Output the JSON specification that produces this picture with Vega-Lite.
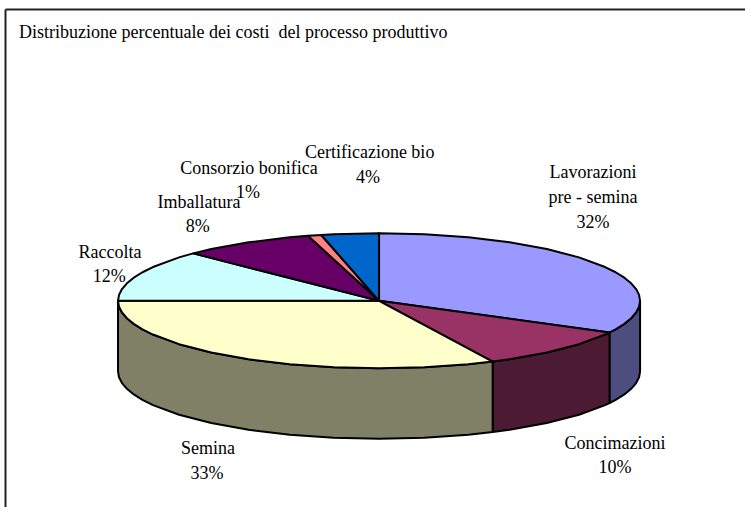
{"$schema":"https://vega.github.io/schema/vega-lite/v6.json","width":740,"height":498,"autosize":"none","padding":{"left":5,"top":9,"right":0,"bottom":0},"background":"white","config":{"view":{"stroke":null}},
"encoding":{"x":{"field":"x","type":"quantitative","scale":{"domain":[-1.433,1.402],"nice":false,"zero":false},"axis":{"orient":"top","title":null,"ticks":false,"labels":false,"grid":false,"domainColor":"#222222","domainWidth":2}},"y":{"field":"y","type":"quantitative","scale":{"domain":[-3.055,4.323],"nice":false,"zero":false},"axis":{"orient":"left","title":null,"ticks":false,"labels":false,"grid":false,"domainColor":"#222222","domainWidth":2}}},
"layer":[
{"data":{"values":[
{"slice":"Lavorazioni lato","n":0,"x":1,"y":0},{"slice":"Lavorazioni lato","n":1,"x":0.9962,"y":-0.0872},{"slice":"Lavorazioni lato","n":2,"x":0.9848,"y":-0.1736},{"slice":"Lavorazioni lato","n":3,"x":0.9659,"y":-0.2588},{"slice":"Lavorazioni lato","n":4,"x":0.9397,"y":-0.342},{"slice":"Lavorazioni lato","n":5,"x":0.9063,"y":-0.4226},{"slice":"Lavorazioni lato","n":6,"x":0.8829,"y":-0.4695},{"slice":"Lavorazioni lato","n":7,"x":0.8829,"y":-1.5145},{"slice":"Lavorazioni lato","n":8,"x":0.9063,"y":-1.4676},{"slice":"Lavorazioni lato","n":9,"x":0.9397,"y":-1.387},{"slice":"Lavorazioni lato","n":10,"x":0.9659,"y":-1.3038},{"slice":"Lavorazioni lato","n":11,"x":0.9848,"y":-1.2186},{"slice":"Lavorazioni lato","n":12,"x":0.9962,"y":-1.1322},{"slice":"Lavorazioni lato","n":13,"x":1,"y":-1.045},{"slice":"Lavorazioni lato","n":14,"x":1,"y":0},
{"slice":"Concimazioni lato","n":0,"x":0.8829,"y":-0.4695},{"slice":"Concimazioni lato","n":1,"x":0.866,"y":-0.5},{"slice":"Concimazioni lato","n":2,"x":0.766,"y":-0.6428},{"slice":"Concimazioni lato","n":3,"x":0.6428,"y":-0.766},{"slice":"Concimazioni lato","n":4,"x":0.5,"y":-0.866},{"slice":"Concimazioni lato","n":5,"x":0.4352,"y":-0.9003},{"slice":"Concimazioni lato","n":6,"x":0.4352,"y":-1.9453},{"slice":"Concimazioni lato","n":7,"x":0.5,"y":-1.911},{"slice":"Concimazioni lato","n":8,"x":0.6428,"y":-1.811},{"slice":"Concimazioni lato","n":9,"x":0.766,"y":-1.6878},{"slice":"Concimazioni lato","n":10,"x":0.866,"y":-1.545},{"slice":"Concimazioni lato","n":11,"x":0.8829,"y":-1.5145},{"slice":"Concimazioni lato","n":12,"x":0.8829,"y":-0.4695},
{"slice":"Semina lato","n":0,"x":0.4352,"y":-0.9003},{"slice":"Semina lato","n":1,"x":0.342,"y":-0.9397},{"slice":"Semina lato","n":2,"x":0.1736,"y":-0.9848},{"slice":"Semina lato","n":3,"x":0,"y":-1},{"slice":"Semina lato","n":4,"x":-0.1736,"y":-0.9848},{"slice":"Semina lato","n":5,"x":-0.342,"y":-0.9397},{"slice":"Semina lato","n":6,"x":-0.5,"y":-0.866},{"slice":"Semina lato","n":7,"x":-0.6428,"y":-0.766},{"slice":"Semina lato","n":8,"x":-0.766,"y":-0.6428},{"slice":"Semina lato","n":9,"x":-0.866,"y":-0.5},{"slice":"Semina lato","n":10,"x":-0.9063,"y":-0.4226},{"slice":"Semina lato","n":11,"x":-0.9397,"y":-0.342},{"slice":"Semina lato","n":12,"x":-0.9659,"y":-0.2588},{"slice":"Semina lato","n":13,"x":-0.9848,"y":-0.1736},{"slice":"Semina lato","n":14,"x":-0.9962,"y":-0.0872},{"slice":"Semina lato","n":15,"x":-1,"y":0},{"slice":"Semina lato","n":16,"x":-1,"y":-1.045},{"slice":"Semina lato","n":17,"x":-0.9962,"y":-1.1322},{"slice":"Semina lato","n":18,"x":-0.9848,"y":-1.2186},{"slice":"Semina lato","n":19,"x":-0.9659,"y":-1.3038},{"slice":"Semina lato","n":20,"x":-0.9397,"y":-1.387},{"slice":"Semina lato","n":21,"x":-0.9063,"y":-1.4676},{"slice":"Semina lato","n":22,"x":-0.866,"y":-1.545},{"slice":"Semina lato","n":23,"x":-0.766,"y":-1.6878},{"slice":"Semina lato","n":24,"x":-0.6428,"y":-1.811},{"slice":"Semina lato","n":25,"x":-0.5,"y":-1.911},{"slice":"Semina lato","n":26,"x":-0.342,"y":-1.9847},{"slice":"Semina lato","n":27,"x":-0.1736,"y":-2.0298},{"slice":"Semina lato","n":28,"x":0,"y":-2.045},{"slice":"Semina lato","n":29,"x":0.1736,"y":-2.0298},{"slice":"Semina lato","n":30,"x":0.342,"y":-1.9847},{"slice":"Semina lato","n":31,"x":0.4352,"y":-1.9453},{"slice":"Semina lato","n":32,"x":0.4352,"y":-0.9003},
{"slice":"Lavorazioni pre - semina","n":0,"x":0,"y":0},{"slice":"Lavorazioni pre - semina","n":1,"x":0,"y":1},{"slice":"Lavorazioni pre - semina","n":2,"x":0.1736,"y":0.9848},{"slice":"Lavorazioni pre - semina","n":3,"x":0.342,"y":0.9397},{"slice":"Lavorazioni pre - semina","n":4,"x":0.5,"y":0.866},{"slice":"Lavorazioni pre - semina","n":5,"x":0.6428,"y":0.766},{"slice":"Lavorazioni pre - semina","n":6,"x":0.766,"y":0.6428},{"slice":"Lavorazioni pre - semina","n":7,"x":0.866,"y":0.5},{"slice":"Lavorazioni pre - semina","n":8,"x":0.9063,"y":0.4226},{"slice":"Lavorazioni pre - semina","n":9,"x":0.9397,"y":0.342},{"slice":"Lavorazioni pre - semina","n":10,"x":0.9659,"y":0.2588},{"slice":"Lavorazioni pre - semina","n":11,"x":0.9848,"y":0.1736},{"slice":"Lavorazioni pre - semina","n":12,"x":0.9962,"y":0.0872},{"slice":"Lavorazioni pre - semina","n":13,"x":1,"y":0},{"slice":"Lavorazioni pre - semina","n":14,"x":0.9962,"y":-0.0872},{"slice":"Lavorazioni pre - semina","n":15,"x":0.9848,"y":-0.1736},{"slice":"Lavorazioni pre - semina","n":16,"x":0.9659,"y":-0.2588},{"slice":"Lavorazioni pre - semina","n":17,"x":0.9397,"y":-0.342},{"slice":"Lavorazioni pre - semina","n":18,"x":0.9063,"y":-0.4226},{"slice":"Lavorazioni pre - semina","n":19,"x":0.8829,"y":-0.4695},{"slice":"Lavorazioni pre - semina","n":20,"x":0,"y":0},
{"slice":"Concimazioni","n":0,"x":0,"y":0},{"slice":"Concimazioni","n":1,"x":0.8829,"y":-0.4695},{"slice":"Concimazioni","n":2,"x":0.866,"y":-0.5},{"slice":"Concimazioni","n":3,"x":0.766,"y":-0.6428},{"slice":"Concimazioni","n":4,"x":0.6428,"y":-0.766},{"slice":"Concimazioni","n":5,"x":0.5,"y":-0.866},{"slice":"Concimazioni","n":6,"x":0.4352,"y":-0.9003},{"slice":"Concimazioni","n":7,"x":0,"y":0},
{"slice":"Semina","n":0,"x":0,"y":0},{"slice":"Semina","n":1,"x":0.4352,"y":-0.9003},{"slice":"Semina","n":2,"x":0.342,"y":-0.9397},{"slice":"Semina","n":3,"x":0.1736,"y":-0.9848},{"slice":"Semina","n":4,"x":0,"y":-1},{"slice":"Semina","n":5,"x":-0.1736,"y":-0.9848},{"slice":"Semina","n":6,"x":-0.342,"y":-0.9397},{"slice":"Semina","n":7,"x":-0.5,"y":-0.866},{"slice":"Semina","n":8,"x":-0.6428,"y":-0.766},{"slice":"Semina","n":9,"x":-0.766,"y":-0.6428},{"slice":"Semina","n":10,"x":-0.866,"y":-0.5},{"slice":"Semina","n":11,"x":-0.9063,"y":-0.4226},{"slice":"Semina","n":12,"x":-0.9397,"y":-0.342},{"slice":"Semina","n":13,"x":-0.9659,"y":-0.2588},{"slice":"Semina","n":14,"x":-0.9848,"y":-0.1736},{"slice":"Semina","n":15,"x":-0.9962,"y":-0.0872},{"slice":"Semina","n":16,"x":-1,"y":0},{"slice":"Semina","n":17,"x":0,"y":0},
{"slice":"Raccolta","n":0,"x":0,"y":0},{"slice":"Raccolta","n":1,"x":-1,"y":0},{"slice":"Raccolta","n":2,"x":-0.9962,"y":0.0872},{"slice":"Raccolta","n":3,"x":-0.9848,"y":0.1736},{"slice":"Raccolta","n":4,"x":-0.9659,"y":0.2588},{"slice":"Raccolta","n":5,"x":-0.9397,"y":0.342},{"slice":"Raccolta","n":6,"x":-0.9063,"y":0.4226},{"slice":"Raccolta","n":7,"x":-0.866,"y":0.5},{"slice":"Raccolta","n":8,"x":-0.766,"y":0.6428},{"slice":"Raccolta","n":9,"x":-0.712,"y":0.7022},{"slice":"Raccolta","n":10,"x":0,"y":0},
{"slice":"Imballatura","n":0,"x":0,"y":0},{"slice":"Imballatura","n":1,"x":-0.712,"y":0.7022},{"slice":"Imballatura","n":2,"x":-0.6428,"y":0.766},{"slice":"Imballatura","n":3,"x":-0.5,"y":0.866},{"slice":"Imballatura","n":4,"x":-0.342,"y":0.9397},{"slice":"Imballatura","n":5,"x":-0.2723,"y":0.9622},{"slice":"Imballatura","n":6,"x":0,"y":0},
{"slice":"Consorzio bonifica","n":0,"x":0,"y":0},{"slice":"Consorzio bonifica","n":1,"x":-0.2723,"y":0.9622},{"slice":"Consorzio bonifica","n":2,"x":-0.2215,"y":0.9751},{"slice":"Consorzio bonifica","n":3,"x":0,"y":0},
{"slice":"Certificazione bio","n":0,"x":0,"y":0},{"slice":"Certificazione bio","n":1,"x":-0.2215,"y":0.9751},{"slice":"Certificazione bio","n":2,"x":-0.1736,"y":0.9848},{"slice":"Certificazione bio","n":3,"x":0,"y":1},{"slice":"Certificazione bio","n":4,"x":0,"y":0}
]},
"mark":{"type":"line","stroke":"black","strokeWidth":2,"strokeJoin":"round"},
"encoding":{"order":{"field":"n","type":"quantitative"},"detail":{"field":"slice"},"fill":{"field":"slice","type":"nominal","legend":null,"scale":{"domain":["Lavorazioni pre - semina","Concimazioni","Semina","Raccolta","Imballatura","Consorzio bonifica","Certificazione bio","Lavorazioni lato","Concimazioni lato","Semina lato"],"range":["#9999FF","#993366","#FFFFCC","#CCFFFF","#660066","#FF8080","#0066CC","#4D4D80","#4D1A33","#808066"]}}}},
{"data":{"values":[
{"label":"Lavorazioni","x":0.82,"y":1.893},{"label":"pre - semina","x":0.82,"y":1.523},{"label":"32%","x":0.82,"y":1.152},
{"label":"Concimazioni","x":0.904,"y":-2.122},{"label":"10%","x":0.904,"y":-2.477},
{"label":"Semina","x":-0.655,"y":-2.196},{"label":"33%","x":-0.659,"y":-2.566},
{"label":"Raccolta","x":-1.031,"y":0.708},{"label":"12%","x":-1.034,"y":0.352},
{"label":"Imballatura","x":-0.69,"y":1.449},{"label":"8%","x":-0.695,"y":1.093},
{"label":"Consorzio bonifica","x":-0.498,"y":1.952},{"label":"1%","x":-0.502,"y":1.597},
{"label":"Certificazione bio","x":-0.036,"y":2.189},{"label":"4%","x":-0.042,"y":1.819}
]},
"mark":{"type":"text","font":"Liberation Serif","fontSize":18,"align":"center","baseline":"middle","color":"#000000"},
"encoding":{"text":{"field":"label"}}},
{"data":{"values":[{"label":"Distribuzione percentuale dei costi \u00a0del processo produttivo","x":-1.379,"y":3.967}]},
"mark":{"type":"text","font":"Liberation Serif","fontSize":18,"align":"left","baseline":"middle","color":"#000000"},
"encoding":{"text":{"field":"label"}}}
]}
